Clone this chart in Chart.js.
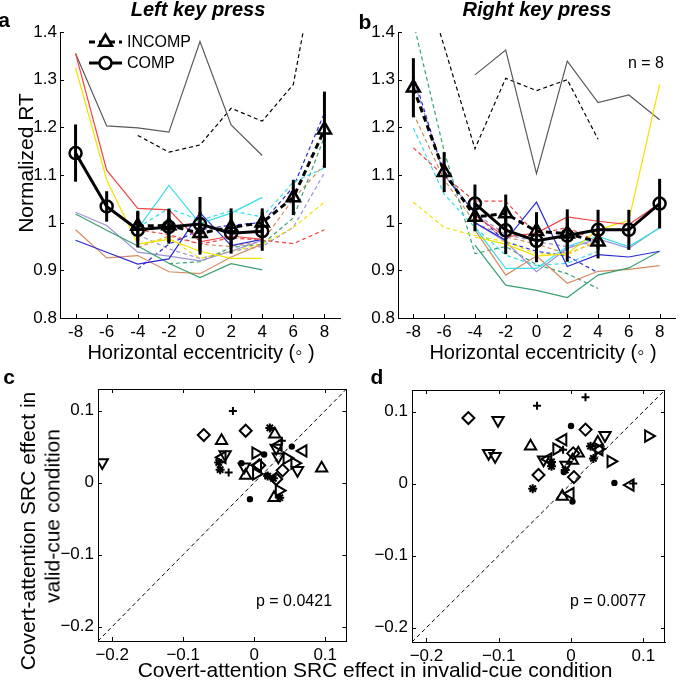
<!DOCTYPE html>
<html>
<head>
<meta charset="utf-8">
<script src="https://cdn.jsdelivr.net/npm/chart.js@4.4.1/dist/chart.umd.min.js"></script>
<style>
  html, body { margin: 0; padding: 0; background: #fff; }
  #fig { position: relative; width: 685px; height: 682px; overflow: hidden;
         font-family: "Liberation Sans", Arial, Helvetica, sans-serif; color: #000; }
  canvas { position: absolute; }
  .lbl { position: absolute; white-space: nowrap; line-height: 1; transform: translate(-50%, -50%); }
  .rot { transform: translate(-50%, -50%) rotate(-90deg); }
  .lft { transform: translate(0, -50%); }
  .bold { font-weight: bold; }
</style>
</head>
<body>
<div id="fig">
  <canvas id="chartA" width="350" height="345" style="left:0;top:0"></canvas>
  <canvas id="chartB" width="345" height="345" style="left:340px;top:0"></canvas>
  <canvas id="chartC" width="355" height="342" style="left:0;top:340px"></canvas>
  <canvas id="chartD" width="345" height="342" style="left:340px;top:340px"></canvas>

  <div class="lbl bold" style="left:4px;top:19px;font-size:21px">a</div>
  <div class="lbl bold" style="left:198px;top:9px;font-size:20px;font-style:italic">Left key press</div>
  <div class="lbl bold" style="left:365px;top:21px;font-size:21px">b</div>
  <div class="lbl bold" style="left:537px;top:9px;font-size:20px;font-style:italic">Right key press</div>
  <div class="lbl rot" style="left:25px;top:163px;font-size:21px">Normalized RT</div>
  <div class="lbl" style="left:201px;top:352px;font-size:20px">Horizontal eccentricity (&#x25E6; )</div>
  <div class="lbl" style="left:543px;top:352px;font-size:20px">Horizontal eccentricity (&#x25E6; )</div>
  <div class="lbl lft" style="left:127px;top:42px;font-size:16px">INCOMP</div>
  <div class="lbl lft" style="left:127px;top:63px;font-size:16px">COMP</div>
  <div class="lbl" style="left:646px;top:63px;font-size:16px">n = 8</div>

  <div class="lbl bold" style="left:9px;top:376px;font-size:21px">c</div>
  <div class="lbl bold" style="left:377px;top:376px;font-size:21px">d</div>
  <div class="lbl rot" style="left:27px;top:531px;font-size:21px">Covert-attention SRC effect in</div>
  <div class="lbl rot" style="left:52px;top:516px;font-size:21px">valid-cue condition</div>
  <div class="lbl" style="left:375px;top:669px;font-size:21px">Covert-attention SRC effect in invalid-cue condition</div>
  <div class="lbl" style="left:294px;top:601px;font-size:16px">p = 0.0421</div>
  <div class="lbl" style="left:608px;top:601px;font-size:16px">p = 0.0077</div>
</div>

<script>
const FONT = '"Liberation Sans", Arial, Helvetica, sans-serif';

// axes
const ecc = [-8, -6, -4, -2, 0, 2, 4, 6, 8];
const eccTickLabels = ['-8', '-6', '-4', '-2', '0', '2', '4', '6', '8'];
const rtTicks = [0.8, 0.9, 1.0, 1.1, 1.2, 1.3, 1.4];
const rtTickLabels = ['0.8', '0.9', '1', '1.1', '1.2', '1.3', '1.4'];
const srcTicks = [-0.2, -0.1, 0, 0.1];
const srcTickLabels = ['\u22120.2', '\u22120.1', '0', '0.1'];
const unityLine = [-0.22, 0.13];

// panel a - left key press, group means
const aComp      = [1.146, 1.034, 0.985, 0.991, 0.997, 0.978, 0.982, null, null];
const aCompErr   = [0.060, 0.032, 0.037, 0.035, 0.057, 0.043, 0.041, null, null];
const aIncomp    = [null, null, 0.993, 0.994, 0.978, 0.990, 1.000, 1.053, 1.195];
const aIncompErr = [null, null, 0.032, 0.035, 0.045, 0.040, 0.030, 0.037, 0.080];

// panel a - single subjects, COMP (solid)
const aCompRed    = [1.355, 1.110, 1.030, 1.027, 0.960, 0.972, 0.965, null, null];
const aCompYellow = [1.325, 1.090, 0.955, 0.965, 0.940, 0.925, 0.925, null, null];
const aCompGray   = [1.355, 1.203, 1.199, 1.190, 1.380, 1.205, 1.141, null, null];
const aCompCyan   = [null, null, 0.987, 1.078, 0.998, 1.020, 1.053, null, null];
const aCompBlue   = [0.963, 0.938, 0.913, 0.924, 1.021, 0.952, 0.965, null, null];
const aCompGreen  = [1.018, 0.984, 0.951, 0.915, 0.885, 0.914, 0.901, null, null];
const aCompBrown  = [0.985, 0.926, 0.931, 0.897, 0.893, 0.928, 0.955, null, null];
const aCompPurple = [1.022, 0.994, 0.938, 0.930, 0.920, 0.940, 0.963, null, null];

// panel a - single subjects, INCOMP (dashed)
const aIncRed    = [null, null, 0.985, 0.975, 0.955, 0.968, 0.963, 0.956, 0.985];
const aIncYellow = [null, null, 0.955, 0.968, 0.925, 0.940, 0.955, 0.990, 1.043];
const aIncBlack  = [null, null, 1.183, 1.148, 1.163, 1.240, 1.213, 1.290, 1.640];
const aIncCyan   = [null, null, 0.990, 1.030, 1.005, 1.025, 1.012, 1.085, 1.115];
const aIncBlue   = [null, null, 0.903, 0.955, 0.985, 0.995, 1.000, 1.075, 1.230];
const aIncGreen  = [null, null, null, 0.914, 0.918, 0.948, 0.955, 1.010, 1.180];
const aIncBrown  = [null, null, 0.948, 0.972, 0.955, 0.950, 0.960, 1.050, 1.122];
const aIncPurple = [null, null, 0.975, 0.945, 0.925, 0.940, 0.950, 0.990, 1.105];

// panel b - right key press, group means
const bComp      = [null, null, 1.040, 0.984, 0.962, 0.973, 0.985, 0.985, 1.040];
const bCompErr   = [null, null, 0.040, 0.050, 0.045, 0.055, 0.042, 0.042, 0.052];
const bIncomp    = [1.283, 1.106, 1.012, 1.019, 0.982, 0.977, 0.960, null, null];
const bIncompErr = [0.062, 0.042, 0.030, 0.040, 0.040, 0.035, 0.035, null, null];

// panel b - single subjects, COMP (solid)
const bCompRed    = [null, null, 1.015, 0.970, 0.978, 1.012, 1.003, 0.996, 1.040];
const bCompYellow = [null, null, 0.970, 0.955, 0.930, 0.935, 0.985, 1.005, 1.290];
const bCompGray   = [null, null, 1.310, 1.362, 1.103, 1.339, 1.252, 1.268, 1.216];
const bCompCyan   = [null, null, 0.990, 0.904, 0.904, 0.950, 0.971, 0.950, 0.989];
const bCompBlue   = [null, null, 1.000, 0.963, 1.043, 0.908, 0.933, 0.928, 0.940];
const bCompGreen  = [null, null, 0.953, 0.869, 0.858, 0.843, 0.890, 0.905, 0.940];
const bCompBrown  = [null, null, 0.985, 0.890, 0.930, 0.873, 0.898, 0.902, 0.910];
const bCompPurple = [null, null, 1.000, 0.960, 0.897, 0.946, 0.966, 0.946, 0.990];

// panel b - single subjects, INCOMP (dashed)
const bIncRed    = [1.157, 1.098, 1.045, 1.045, 0.975, 0.990, 0.960, null, null];
const bIncYellow = [1.043, 0.990, 0.973, 0.960, 0.935, 0.932, 0.965, null, null];
const bIncBlack  = [1.580, 1.370, 1.155, 1.303, 1.277, 1.300, 1.175, null, null];
const bIncCyan   = [1.198, 1.060, 0.990, 0.932, 0.910, 0.915, 0.940, null, null];
const bIncBlue   = [1.310, 1.100, 1.020, 0.960, 0.940, 0.930, 0.895, null, null];
const bIncGreen  = [1.420, 1.150, 0.935, 0.950, 0.912, 0.893, 0.862, null, null];
const bIncBrown  = [1.229, 1.090, 1.000, 0.970, 0.955, 0.935, 0.960, null, null];
const bIncPurple = [1.300, 1.100, 1.020, 0.975, 0.960, 0.950, 0.960, null, null];

// panel c - [invalid-cue, valid-cue] per marker
const cPlus     = [[-0.030, 0.0995], [-0.036, 0.014], [0.039, 0.058]];
const cStar     = [[0.022, 0.076], [-0.050, 0.028], [-0.048, 0.018], [0.019, 0.009], [0.036, -0.021], [0.027, 0.006]];
const cDot      = [[0.014, 0.039], [-0.006, -0.023], [0.018, 0.010], [0.053, 0.050], [-0.018, 0.027]];
const cDiamond  = [[-0.071, 0.066], [-0.012, 0.072], [0.007, 0.024], [0.040, 0.017], [0.031, 0.005]];
const cTriUp    = [[-0.046, 0.058], [-0.012, 0.010], [0.028, -0.021], [0.095, 0.020], [0.029, 0.067]];
const cTriDown  = [[-0.214, 0.028], [-0.041, 0.039], [-0.014, 0.022], [0.031, 0.048], [0.061, 0.017], [0.034, 0.036]];
const cTriRight = [[0.002, 0.041], [0.046, 0.034], [0.035, -0.011], [0.057, 0.027], [0.003, 0.012]];
const cTriLeft  = [[0.069, 0.044], [0.005, 0.024], [0.034, 0.052], [-0.045, 0.035]];

// panel d
const dPlus     = [[-0.047, 0.108], [0.020, 0.120], [-0.011, 0.047], [0.086, 0.000]];
const dStar     = [[-0.053, -0.007], [-0.027, 0.024], [-0.027, 0.030], [0.027, 0.052], [0.031, 0.035], [-0.008, 0.019]];
const dDot      = [[0.000, 0.080], [0.060, 0.001], [0.002, -0.025], [-0.010, 0.016]];
const dDiamond  = [[-0.142, 0.091], [-0.045, 0.012], [0.020, 0.075], [0.004, 0.009], [0.003, 0.042]];
const dTriUp    = [[-0.056, 0.052], [0.010, 0.042], [0.002, 0.032], [-0.012, -0.018], [0.037, 0.057]];
const dTriDown  = [[-0.101, 0.088], [-0.114, 0.042], [-0.105, 0.038], [0.047, 0.067], [-0.038, 0.033], [-0.007, 0.026]];
const dTriLeft  = [[-0.011, 0.061], [-0.001, -0.014], [0.082, -0.002], [0.039, 0.047], [-0.032, 0.034]];
const dTriRight = [[-0.020, 0.048], [0.055, 0.031], [0.107, 0.066], [0.038, 0.048]];

const colors = {
  red: '#ee4646', yellow: '#f2e200', gray: '#5a5a5a', black: '#000000',
  cyan: '#35dde8', blue: '#2a2ad8', green: '#38a070', brown: '#d58a60', purple: '#9d92d6'
};

function pts(xs, ys) {
  return xs.map((x, i) => ({ x: x, y: ys[i] }));
}

function subjLine(ys, color, dashed) {
  return {
    data: pts(ecc, ys), borderColor: colors[color], borderWidth: 1.2,
    borderDash: dashed ? [4, 3] : [], pointRadius: 0, order: 2
  };
}

function meanLine(ys, errs, dashed) {
  return {
    data: pts(ecc, ys), errors: errs, borderColor: '#000', borderWidth: 3,
    borderDash: dashed ? [6, 4] : [],
    pointStyle: dashed ? 'triangle' : 'circle', pointRadius: dashed ? 7.5 : 6,
    pointBorderWidth: 2.5, pointBorderColor: '#000', pointBackgroundColor: 'rgba(0,0,0,0)',
    order: dashed ? 1 : 0
  };
}

function markerSet(points, style, rot, radius, filled) {
  return {
    data: points.map(p => ({ x: p[0], y: p[1] })),
    pointStyle: style, pointRotation: rot, pointRadius: radius, pointBorderWidth: 2,
    pointBorderColor: '#000', pointBackgroundColor: filled ? '#000' : 'rgba(0,0,0,0)',
    showLine: false, order: 0
  };
}

// inward tick marks, optional full box
const frame = {
  id: 'frame',
  afterDraw(chart, args, opts) {
    const ctx = chart.ctx, a = chart.chartArea;
    const xs = chart.scales.x, ys = chart.scales.y;
    const L = 4;
    ctx.save();
    ctx.strokeStyle = '#000';
    ctx.lineWidth = 1;
    ctx.beginPath();
    xs.ticks.forEach(t => {
      const px = Math.round(xs.getPixelForValue(t.value)) + 0.5;
      ctx.moveTo(px, a.bottom); ctx.lineTo(px, a.bottom - L);
      if (opts.box) { ctx.moveTo(px, a.top); ctx.lineTo(px, a.top + L); }
    });
    ys.ticks.forEach(t => {
      const py = Math.round(ys.getPixelForValue(t.value)) + 0.5;
      ctx.moveTo(a.left, py); ctx.lineTo(a.left + L, py);
      if (opts.box) { ctx.moveTo(a.right, py); ctx.lineTo(a.right - L, py); }
    });
    if (opts.box) {
      ctx.moveTo(a.left, Math.round(a.top) + 0.5); ctx.lineTo(a.right, Math.round(a.top) + 0.5);
      ctx.moveTo(Math.round(a.right) - 0.5, a.top); ctx.lineTo(Math.round(a.right) - 0.5, a.bottom);
    }
    ctx.stroke();
    ctx.restore();
  }
};

const errorBars = {
  id: 'errorBars',
  afterDatasetsDraw(chart) {
    const ctx = chart.ctx, xs = chart.scales.x, ys = chart.scales.y;
    ctx.save();
    ctx.strokeStyle = '#000';
    ctx.lineWidth = 3;
    chart.data.datasets.forEach(ds => {
      if (!ds.errors) return;
      ds.data.forEach((p, i) => {
        const e = ds.errors[i];
        if (p.y == null || e == null) return;
        const px = xs.getPixelForValue(p.x);
        ctx.beginPath();
        ctx.moveTo(px, ys.getPixelForValue(p.y - e));
        ctx.lineTo(px, ys.getPixelForValue(p.y + e));
        ctx.stroke();
      });
    });
    ctx.restore();
  }
};

// legend keys of panel a (labels are html)
const legendKeys = {
  id: 'legendKeys',
  afterDraw(chart) {
    const ctx = chart.ctx, a = chart.chartArea;
    const x0 = a.left + 29, x1 = a.left + 62, xm = (x0 + x1) / 2;
    const y1 = a.top + 10, y2 = a.top + 31;
    ctx.save();
    ctx.strokeStyle = '#000';
    ctx.lineWidth = 3;
    ctx.setLineDash([6, 4]);
    ctx.beginPath(); ctx.moveTo(x0, y1); ctx.lineTo(x1, y1); ctx.stroke();
    ctx.setLineDash([]);
    ctx.beginPath(); ctx.moveTo(x0, y2); ctx.lineTo(x1, y2); ctx.stroke();
    ctx.lineWidth = 2.5;
    ctx.fillStyle = '#fff';
    const r = 7.5;
    ctx.beginPath();
    ctx.moveTo(xm, y1 - r);
    ctx.lineTo(xm + Math.sin(2 * Math.PI / 3) * r, y1 + r / 2);
    ctx.lineTo(xm - Math.sin(2 * Math.PI / 3) * r, y1 + r / 2);
    ctx.closePath();
    ctx.fill(); ctx.stroke();
    ctx.beginPath(); ctx.arc(xm, y2, 6, 0, 2 * Math.PI); ctx.fill(); ctx.stroke();
    ctx.restore();
  }
};

function axis(min, max, tickVals, tickLabels, size, isX, pad) {
  return {
    type: 'linear', min: min, max: max,
    afterBuildTicks: s => { s.ticks = tickVals.map(v => ({ value: v })); },
    afterFit: s => { if (isX) s.height = size; else s.width = size; },
    ticks: { color: '#000', padding: pad, font: { family: FONT, size: 17 },
             callback: (v, i) => tickLabels[i] },
    grid: { display: true, drawOnChartArea: false, drawTicks: false },
    border: { display: true, color: '#000', width: 1 }
  };
}

function baseOptions(padTop, padRight, box, xAxis, yAxis) {
  return {
    responsive: false, animation: false, events: [],
    layout: { padding: { top: padTop, right: padRight, left: 0, bottom: 0 } },
    plugins: { legend: { display: false }, tooltip: { enabled: false }, frame: { box: box } },
    scales: { x: xAxis, y: yAxis }
  };
}

function rtChart(id, yWidth, padRight, subjects, comp, compErr, incomp, incompErr, extra) {
  const datasets = [meanLine(comp, compErr, false), meanLine(incomp, incompErr, true)];
  subjects.forEach(s => datasets.push(subjLine(s[0], s[1], s[2])));
  new Chart(document.getElementById(id), {
    type: 'line',
    data: { datasets: datasets },
    options: baseOptions(32, padRight, false,
      axis(-9, 9, ecc, eccTickLabels, 27, true, 4),
      axis(0.8, 1.4, rtTicks, rtTickLabels, yWidth, false, 3)),
    plugins: [frame, errorBars].concat(extra)
  });
}

function srcChart(id, yWidth, padTop, padRight, xHeight, sets) {
  const datasets = [{
    data: unityLine.map(v => ({ x: v, y: v })), showLine: true, borderColor: '#000',
    borderWidth: 1, borderDash: [4, 3], pointRadius: 0, order: 5
  }];
  sets.forEach(s => datasets.push(s));
  new Chart(document.getElementById(id), {
    type: 'scatter',
    data: { datasets: datasets },
    options: baseOptions(padTop, padRight, true,
      axis(-0.22, 0.13, srcTicks, srcTickLabels, xHeight, true, 4),
      axis(-0.22, 0.13, srcTicks, srcTickLabels, yWidth, false, 4)),
    plugins: [frame]
  });
}

rtChart('chartA', 60, 4, [
  [aCompRed, 'red', false], [aCompYellow, 'yellow', false], [aCompGray, 'gray', false],
  [aCompCyan, 'cyan', false], [aCompBlue, 'blue', false], [aCompGreen, 'green', false],
  [aCompBrown, 'brown', false], [aCompPurple, 'purple', false],
  [aIncRed, 'red', true], [aIncYellow, 'yellow', true], [aIncBlack, 'black', true],
  [aIncCyan, 'cyan', true], [aIncBlue, 'blue', true], [aIncGreen, 'green', true],
  [aIncBrown, 'brown', true], [aIncPurple, 'purple', true]
], aComp, aCompErr, aIncomp, aIncompErr, [legendKeys]);

rtChart('chartB', 58, 1, [
  [bCompRed, 'red', false], [bCompYellow, 'yellow', false], [bCompGray, 'gray', false],
  [bCompCyan, 'cyan', false], [bCompBlue, 'blue', false], [bCompGreen, 'green', false],
  [bCompBrown, 'brown', false], [bCompPurple, 'purple', false],
  [bIncRed, 'red', true], [bIncYellow, 'yellow', true], [bIncBlack, 'black', true],
  [bIncCyan, 'cyan', true], [bIncBlue, 'blue', true], [bIncGreen, 'green', true],
  [bIncBrown, 'brown', true], [bIncPurple, 'purple', true]
], bComp, bCompErr, bIncomp, bIncompErr, []);

srcChart('chartC', 98, 49, 6, 41, [
  markerSet(cPlus, 'cross', 0, 4, false), markerSet(cStar, 'star', 0, 4.5, false),
  markerSet(cDot, 'circle', 0, 2.2, true), markerSet(cDiamond, 'rectRot', 0, 6, false),
  markerSet(cTriUp, 'triangle', 0, 6.5, false), markerSet(cTriDown, 'triangle', 180, 6.5, false),
  markerSet(cTriRight, 'triangle', 90, 6.5, false), markerSet(cTriLeft, 'triangle', 270, 6.5, false)
]);

srcChart('chartD', 72, 50, 20, 40, [
  markerSet(dPlus, 'cross', 0, 4, false), markerSet(dStar, 'star', 0, 4.5, false),
  markerSet(dDot, 'circle', 0, 2.2, true), markerSet(dDiamond, 'rectRot', 0, 6, false),
  markerSet(dTriUp, 'triangle', 0, 6.5, false), markerSet(dTriDown, 'triangle', 180, 6.5, false),
  markerSet(dTriRight, 'triangle', 90, 6.5, false), markerSet(dTriLeft, 'triangle', 270, 6.5, false)
]);
</script>
</body>
</html>
